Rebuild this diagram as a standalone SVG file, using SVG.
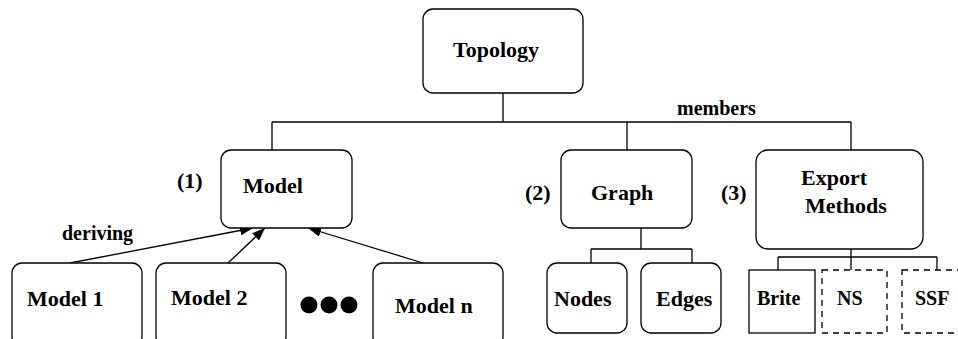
<svg xmlns="http://www.w3.org/2000/svg" width="958" height="339" viewBox="0 0 958 339">
<style>
.box{fill:#fff;stroke:#000;stroke-width:1.3}
.dash{fill:#fff;stroke:#000;stroke-width:1.3;stroke-dasharray:6,5}
.ln{fill:none;stroke:#000;stroke-width:1.3}
.t{font-weight:bold;font-size:22px;fill:#000}
.sm{font-size:20px}
</style>
<defs>
<marker id="ah" markerUnits="userSpaceOnUse" markerWidth="14" markerHeight="10" refX="13" refY="5" orient="auto">
<path d="M0,0 L13,5 L0,10 Z" fill="#000"/>
</marker>
</defs>
<rect width="958" height="339" fill="#fff"/>
<g font-family="'Liberation Serif', 'Times New Roman', 'DejaVu Serif', serif">
<g id="connectors">
<path class="ln" d="M503,93 V122 M272,122 H851 M272,122 V150 M627,122 V150 M851,122 V150"/>
<path class="ln" d="M641,228 V249 M591,249 H692 M591,249 V263 M692,249 V263"/>
<path class="ln" d="M851,249 V257 M778,257 H937 M778,257 V270 M851,257 V270 M937,257 V270"/>
<line class="ln" x1="70" y1="263" x2="253" y2="228" marker-end="url(#ah)"/>
<line class="ln" x1="228" y1="263" x2="265" y2="228" marker-end="url(#ah)"/>
<line class="ln" x1="423" y1="263" x2="308" y2="228" marker-end="url(#ah)"/>
<text class="t sm" x="677" y="115">members</text>
<text class="t sm" x="62" y="240">deriving</text>
</g>
<g id="topology"><rect class="box" x="423" y="9" width="160" height="84" rx="10"/><text class="t" x="453" y="57">Topology</text></g>
<g id="model"><rect class="box" x="221" y="150" width="131" height="78" rx="10"/><text class="t" x="243" y="193">Model</text><text class="t" x="177" y="188">(1)</text></g>
<g id="graph"><rect class="box" x="561" y="150" width="131" height="78" rx="10"/><text class="t" x="591" y="200">Graph</text><text class="t" x="525" y="200">(2)</text></g>
<g id="export"><rect class="box" x="756" y="150" width="167" height="99" rx="12"/><text class="t" x="801" y="185">Export</text><text class="t" x="805" y="213">Methods</text><text class="t" x="721" y="200">(3)</text></g>
<g id="model1"><rect class="box" x="12" y="263" width="130" height="84" rx="10"/><text class="t" x="27" y="306">Model 1</text></g>
<g id="model2"><rect class="box" x="156" y="263" width="130" height="84" rx="10"/><text class="t" x="171" y="305">Model 2</text></g>
<g id="dots"><circle cx="309" cy="305" r="8.5"/><circle cx="329" cy="305" r="8.5"/><circle cx="349" cy="305" r="8.5"/></g>
<g id="modeln"><rect class="box" x="373" y="263" width="130" height="84" rx="10"/><text class="t" x="395" y="313">Model n</text></g>
<g id="nodes"><rect class="box" x="547" y="263" width="80" height="70" rx="10"/><text class="t" x="554" y="306">Nodes</text></g>
<g id="edges"><rect class="box" x="641" y="263" width="80" height="70" rx="10"/><text class="t" x="656" y="306">Edges</text></g>
<g id="brite"><rect class="box" x="749" y="270" width="66" height="63"/><text class="t sm" x="757" y="305">Brite</text></g>
<g id="ns"><rect class="dash" x="822" y="270" width="65" height="63"/><text class="t sm" x="837" y="305">NS</text></g>
<g id="ssf"><rect class="dash" x="902" y="270" width="66" height="63"/><text class="t sm" x="915" y="305">SSF</text></g>
</g>
</svg>
